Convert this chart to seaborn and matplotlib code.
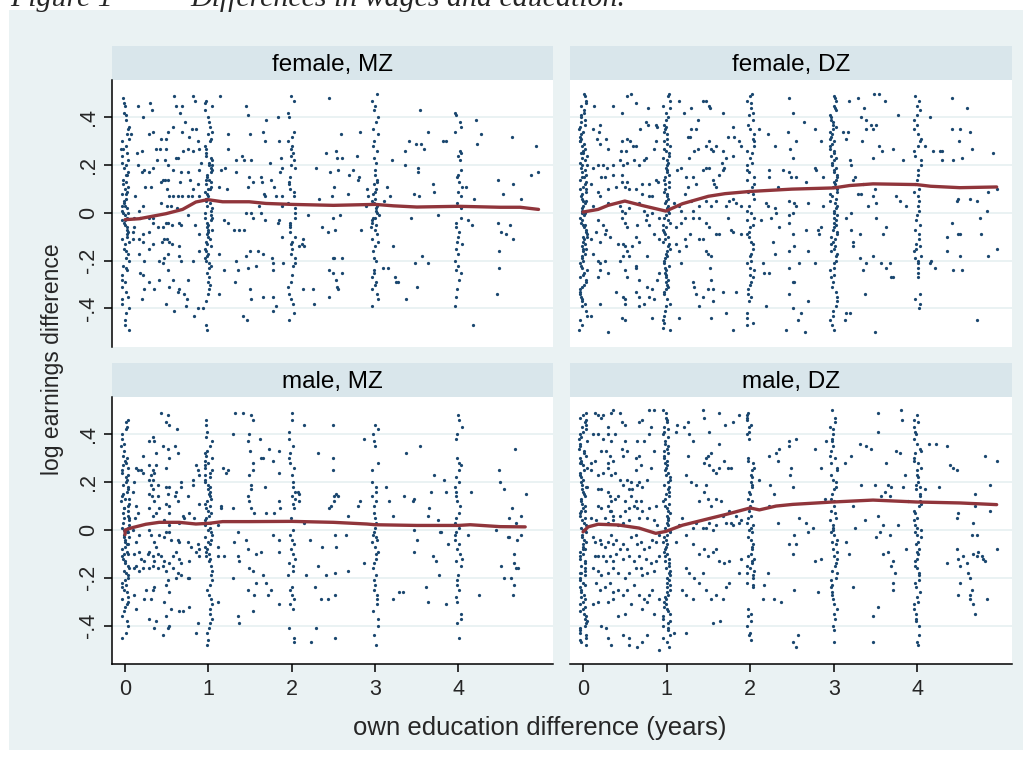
import pandas as pd
import seaborn as sns
import matplotlib.pyplot as plt
from matplotlib.patches import Rectangle

# ------------------------------------------------- #
# values
# x = own education difference (years), y = log earnings difference
# colN = the points that sit on the column at x = N (drawn with jitter)
# pts = the other points, fit = the lowess line
# ------------------------------------------------- #
x_ticks = [0, 1, 2, 3, 4]
y_ticks = [.4, .2, 0, -.2, -.4]
y_tick_labels = [".4", ".2", "0", "-.2", "-.4"]
panel_titles = ["female, MZ", "female, DZ", "male, MZ", "male, DZ"]

# ---- female, MZ
fmz_col0 = [.48, .46, .45, .42, .41, .39, .36, .35, .33, .31, .30, .28, .27, .27, .25, .24, .22, .21, .20, .19,
            .17, .16, .16, .14, .13, .12, .11, .10, .09, .08, .08, .06, .05, .04, .03, .03, .02, .01, .00, .00,
            -.01, -.02, -.03, -.03, -.04, -.05, -.06, -.07, -.08, -.09, -.10, -.11, -.12, -.13, -.15, -.16, -.17,
            -.19, -.20, -.22, -.23, -.24, -.26, -.28, -.29, -.31, -.33, -.35, -.36, -.38, -.40, -.42, -.45, -.47, -.49]
fmz_col1 = [.47, .46, .45, .43, .40, .38, .36, .34, .33, .31, .30, .28, .27, .25, .24, .23, .22, .21, .20, .20,
            .19, .18, .17, .16, .15, .14, .14, .13, .12, .11, .10, .10, .09, .08, .07, .06, .06, .05, .04, .03,
            .02, .01, .00, -.01, -.02, -.02, -.03, -.04, -.05, -.06, -.07, -.07, -.08, -.09, -.10, -.11, -.12,
            -.13, -.14, -.15, -.16, -.17, -.18, -.19, -.20, -.21, -.22, -.23, -.25, -.27, -.29, -.30, -.32, -.34,
            -.37, -.47, -.49]
fmz_col2 = [.49, .47, .42, .40, .34, .32, .30, .28, .27, .25, .24, .22, .20, .19, .15, .13, .12, .10, .09, .07,
            .04, .02, .00, -.02, -.04, -.05, -.06, -.08, -.10, -.12, -.13, -.15, -.17, -.19, -.21, -.22, -.26,
            -.29, -.31, -.34, -.36, -.38, -.42, -.45]
fmz_col3 = [.50, .47, .45, .43, .40, .38, .35, .33, .30, .28, .26, .23, .21, .18, .16, .14, .13, .12, .10, .09,
            .08, .06, .05, .04, .03, .02, .01, .00, -.01, -.02, -.02, -.03, -.04, -.05, -.06, -.07, -.09, -.11,
            -.12, -.14, -.16, -.19, -.20, -.24, -.25, -.27, -.29, -.30, -.32, -.34, -.36, -.39]
fmz_col4 = [.42, .41, .38, .36, .34, .26, .25, .24, .22, .18, .16, .15, .13, .11, .09, .07, .04, .02, -.02, -.04,
            -.06, -.08, -.10, -.12, -.13, -.15, -.17, -.20, -.22, -.24, -.25, -.28, -.32, -.35, -.39]
fmz_pts = [(.16, .45), (.30, .46), (.32, .43), (.22, .40), (.59, .49), (.61, .45), (.66, .42), (.68, .45),
           (.82, .49), (.84, .47), (.72, .38), (.57, .36), (.34, .34), (.29, .33), (.43, .31), (.49, .31),
           (.52, .34), (.80, .35), (.85, .35), (.68, .34), (.77, .32), (.87, .30), (.07, .33), (.14, .25),
           (.20, .26), (.37, .27), (.42, .27), (.49, .27), (.61, .23), (.64, .23), (.70, .26), (.76, .27),
           (.81, .26), (.89, .27), (.15, .20), (.20, .17), (.23, .18), (.29, .17), (.33, .19), (.38, .22),
           (.48, .22), (.51, .20), (.58, .18), (.67, .17), (.76, .17), (.78, .14), (.89, .18), (.91, .21),
           (.12, .07), (.24, .11), (.31, .11), (.43, .13), (.45, .14), (.48, .14), (.51, .14), (.50, .10),
           (.53, .07), (.57, .07), (.63, .07), (.68, .07), (.76, .07), (.80, .07), (.89, .07), (.87, .12),
           (.81, .10), (.66, .13), (.17, .01), (.21, .03), (.11, -.02), (.18, -.02), (.29, -.02), (.33, -.02),
           (.43, .04), (.50, .03), (.55, .03), (.62, .02), (.76, -.01), (.21, -.09), (.29, -.08), (.33, -.04),
           (.39, -.06), (.45, -.06), (.49, -.04), (.52, -.04), (.56, -.05), (.65, -.04), (.67, -.05),
           (.84, -.05), (.89, -.09), (.11, -.06), (.10, -.08), (.09, -.11), (.17, -.11), (.22, -.12),
           (.29, -.15), (.34, -.13), (.44, -.12), (.47, -.11), (.50, -.11), (.53, -.12), (.56, -.13),
           (.65, -.14), (.17, -.17), (.23, -.20), (.41, -.20), (.45, -.21), (.47, -.19), (.52, -.17),
           (.65, -.18), (.67, -.20), (.81, -.20), (.89, -.16), (.18, -.25), (.21, -.26), (.29, -.29),
           (.41, -.28), (.51, -.24), (.57, -.28), (.65, -.32), (.75, -.28), (.23, -.32), (.35, -.32),
           (.53, -.31), (.63, -.33), (.71, -.34), (.74, -.36), (.20, -.36), (.49, -.38), (.59, -.41),
           (.73, -.39), (.83, -.43), (.88, -.40), (.94, -.40),
           (1.14, .49), (1.24, .33), (1.23, .27), (1.15, .18), (1.20, .19), (1.13, .11), (1.22, .10),
           (1.33, .22), (1.33, .17), (1.40, .24), (1.43, .22), (1.45, .45), (1.48, .41), (1.50, .33),
           (1.51, .22), (1.65, .34), (1.68, .30), (1.69, .39), (1.84, .40), (1.85, .30), (1.74, .21),
           (1.87, .23), (1.88, .19), (1.86, .17), (1.49, .15), (1.53, .13), (1.48, .11), (1.63, .15),
           (1.64, .13), (1.67, .08), (1.68, .07), (1.75, .14), (1.79, .11), (1.81, .07), (1.88, .07),
           (1.88, .03), (1.19, -.03), (1.23, -.04), (1.31, -.07), (1.37, -.07), (1.43, -.07), (1.45, .00),
           (1.51, .00), (1.53, -.02), (1.61, .03), (1.63, .00), (1.68, -.03), (1.83, -.04), (1.85, -.03),
           (1.88, -.10), (1.13, -.17), (1.19, -.24), (1.33, -.20), (1.35, -.24), (1.45, -.18), (1.47, -.23),
           (1.50, -.16), (1.57, -.22), (1.60, -.16), (1.65, -.17), (1.76, -.19), (1.77, -.21), (1.77, -.24),
           (1.89, -.21), (1.13, -.34), (1.32, -.29), (1.50, -.32), (1.51, -.36), (1.65, -.35), (1.77, -.35),
           (1.81, -.39), (1.77, -.41), (1.42, -.43), (1.46, -.45),
           (2.09, -.14), (2.12, -.13), (2.15, -.14), (2.14, -.11), (2.20, -.01), (2.29, .19), (2.33, .06),
           (2.36, -.06), (2.41, .25), (2.43, -.08), (2.45, .48), (2.46, .17), (2.48, .07), (2.49, -.02),
           (2.51, .11), (2.52, -.07), (2.53, .26), (2.54, .23), (2.55, .18), (2.49, -.19), (2.51, -.19),
           (2.45, -.24), (2.49, -.25), (2.53, -.28), (2.54, -.31), (2.56, -.32), (2.45, -.35), (2.59, .33),
           (2.60, -.19), (2.60, -.25), (2.58, -.01), (2.60, .23), (2.68, .08), (2.69, .16), (2.74, .18),
           (2.78, .24), (2.79, .14), (2.81, .15), (2.82, .34), (2.83, -.07), (2.89, .03), (2.90, .10),
           (2.91, .07), (2.25, -.32), (2.27, -.38), (2.14, -.32),
           (3.09, -.23), (3.11, .05), (3.14, .11), (3.16, -.23), (3.18, .07), (3.20, .22), (3.22, -.14),
           (3.24, -.27), (3.25, -.29), (3.27, -.29), (3.36, .26), (3.36, .20), (3.37, -.36), (3.41, .30),
           (3.43, -.02), (3.47, .08), (3.48, -.21), (3.49, .29), (3.50, -.31), (3.51, .19), (3.51, .17),
           (3.53, .07), (3.54, .43), (3.55, .29), (3.56, -.18), (3.59, .27), (3.63, -.21), (3.64, .34),
           (3.69, .12), (3.71, .09), (3.75, -.01), (3.81, .30), (3.85, .30),
           (4.09, .11), (4.11, -.03), (4.16, -.05), (4.17, -.47), (4.19, .06), (4.21, .39), (4.22, .29),
           (4.27, .33), (4.47, .14), (4.47, -.04), (4.49, -.16), (4.49, -.23), (4.46, -.34), (4.51, -.08),
           (4.53, .08), (4.57, -.09), (4.62, -.05), (4.64, .32), (4.65, .12), (4.65, -.11), (4.75, .06),
           (4.87, .16), (4.93, .28), (4.95, .17)]
fmz_fit_x = [0, .17, .49, .69, .85, .99, 1.17, 1.49, 1.69, 2.0, 2.5, 3.0, 3.22, 3.5, 4.0, 4.5, 4.74, 4.96]
fmz_fit_y = [-.028, -.024, -.003, .015, .046, .056, .047, .047, .040, .036, .032, .036, .030, .025, .028, .024,
             .024, .015]

# ---- female, DZ
fdz_col0 = [.50, .49, .47, .46, .45, .43, .42, .41, .40, .39, .38, .37, .36, .35, .34, .33, .32, .31, .30, .30,
            .29, .28, .27, .26, .25, .25, .24, .23, .22, .21, .20, .20, .19, .18, .17, .16, .15, .15, .14, .13,
            .12, .11, .10, .10, .09, .08, .07, .06, .05, .05, .04, .03, .02, .01, .00, .00, -.01, -.02, -.03,
            -.04, -.05, -.05, -.06, -.07, -.08, -.09, -.10, -.10, -.11, -.12, -.13, -.14, -.15, -.15, -.16,
            -.17, -.18, -.19, -.20, -.21, -.22, -.23, -.24, -.25, -.26, -.27, -.28, -.29, -.30, -.31, -.32,
            -.33, -.34, -.35, -.36, -.37, -.38, -.39, -.41, -.43, -.45, -.47, -.49]
fdz_col1 = [.50, .49, .47, .45, .44, .42, .40, .39, .37, .36, .35, .34, .33, .31, .30, .29, .28, .27, .26, .25,
            .24, .23, .22, .21, .20, .19, .18, .17, .16, .15, .14, .13, .12, .11, .10, .09, .08, .07, .06, .05,
            .04, .03, .02, .01, .00, -.01, -.02, -.03, -.04, -.05, -.06, -.07, -.08, -.09, -.10, -.11, -.12,
            -.13, -.14, -.15, -.16, -.17, -.18, -.19, -.20, -.21, -.22, -.23, -.24, -.25, -.26, -.27, -.28,
            -.29, -.30, -.31, -.32, -.33, -.34, -.36, -.38, -.39, -.41, -.43, -.45, -.46, -.48, -.49]
fdz_col2 = [.50, .49, .47, .46, .44, .42, .41, .39, .37, .35, .33, .31, .30, .28, .26, .25, .23, .21, .20, .18,
            .17, .15, .14, .12, .11, .09, .08, .06, .03, .01, .00, -.02, -.03, -.05, -.06, -.08, -.09, -.10,
            -.12, -.13, -.15, -.17, -.18, -.20, -.21, -.23, -.24, -.26, -.27, -.29, -.30, -.32, -.34, -.35,
            -.37, -.42, -.44, -.46, -.47]
fdz_col3 = [.49, .48, .47, .45, .44, .43, .41, .40, .39, .38, .37, .36, .35, .34, .33, .32, .31, .30, .29, .28,
            .27, .26, .25, .24, .23, .22, .21, .20, .19, .18, .17, .16, .15, .14, .13, .12, .11, .10, .09, .08,
            .07, .06, .05, .04, .03, .02, .01, .00, -.01, -.02, -.03, -.04, -.05, -.06, -.07, -.08, -.09, -.10,
            -.11, -.12, -.13, -.14, -.15, -.16, -.17, -.18, -.20, -.21, -.23, -.24, -.26, -.27, -.29, -.31,
            -.33, -.35, -.37, -.39, -.41, -.43, -.45, -.47, -.49]
fdz_col4 = [.49, .47, .45, .43, .41, .39, .37, .35, .33, .31, .30, .28, .26, .24, .22, .20, .18, .16, .14, .12,
            .10, .09, .07, .05, .03, .01, -.01, -.03, -.05, -.07, -.09, -.11, -.13, -.14, -.15, -.16, -.18,
            -.19, -.20, -.21, -.23, -.25, -.27, -.34, -.36, -.38, -.40]
fdz_pts = [(.13, .45), (.30, -.50), (.36, .45), (.46, .42), (.53, .49), (.57, .50), (.63, .46), (.78, .44),
           (.75, .38), (.68, .35), (.12, .35), (.20, .37), (.19, .34), (.17, .31), (.28, .31), (.20, .29),
           (.30, .27), (.46, .30), (.53, .31), (.56, .30), (.45, .26), (.60, .28), (.63, .28), (.51, .26),
           (.73, .22), (.75, .23), (.78, .37), (.87, .37), (.89, .36), (.85, .27), (.87, .30), (.12, .19),
           (.18, .20), (.24, .20), (.29, .19), (.36, .20), (.44, .22), (.53, .21), (.48, .20), (.67, .20),
           (.61, .22), (.22, .15), (.26, .15), (.36, .16), (.46, .16), (.47, .13), (.52, .13), (.50, .11),
           (.10, .12), (.18, .09), (.20, .07), (.30, .10), (.40, .11), (.55, .10), (.63, .10), (.71, .12),
           (.79, .12), (.71, .08), (.79, .07), (.83, .07), (.87, .14), (.90, .13), (.12, .03), (.30, .04),
           (.44, .03), (.46, .01), (.50, .00), (.55, .02), (.67, .04), (.73, .01), (.83, .00), (.77, -.01),
           (.91, -.02), (.18, -.03), (.24, -.05), (.28, -.07), (.16, -.08), (.26, -.09), (.32, -.10),
           (.46, -.02), (.50, -.04), (.53, -.06), (.65, -.05), (.75, -.03), (.79, -.05), (.85, -.09),
           (.91, -.11), (.10, -.11), (.20, -.12), (.42, -.13), (.48, -.13), (.50, -.14), (.53, -.16),
           (.59, -.14), (.63, -.10), (.67, -.12), (.77, -.18), (.12, -.17), (.18, -.20), (.20, -.21),
           (.26, -.20), (.44, -.20), (.48, -.18), (.55, -.18), (.63, -.22), (.63, -.23), (.50, -.24),
           (.53, -.27), (.20, -.24), (.18, -.27), (.30, -.25), (.67, -.28), (.77, -.31), (.83, -.32),
           (.91, -.25), (.89, -.28), (.40, -.33), (.48, -.35), (.50, -.36), (.67, -.35), (.63, -.33),
           (.79, -.35), (.85, -.36), (.73, -.38), (.67, -.39), (.20, -.38), (.50, -.38), (.46, -.44),
           (.50, -.45), (.10, -.43), (.83, -.44),
           (1.15, .47), (1.21, .42), (1.29, .44), (1.43, .47), (1.47, .47), (1.51, .45), (1.52, .44),
           (1.68, .42), (1.79, .36), (1.81, .32), (1.73, .32), (1.67, .26), (1.71, .23), (1.79, .24),
           (1.87, .30), (1.89, .28), (1.25, .32), (1.28, .32), (1.29, .35), (1.35, .35), (1.37, .39),
           (1.33, .26), (1.27, .23), (1.38, .27), (1.47, .28), (1.51, .30), (1.53, .27), (1.55, .26),
           (1.59, .28), (1.66, .21), (1.13, .18), (1.17, .19), (1.23, .15), (1.25, .11), (1.31, .15),
           (1.35, .12), (1.43, .18), (1.47, .19), (1.51, .19), (1.55, .14), (1.57, .12), (1.59, .11),
           (1.63, .16), (1.67, .18), (1.69, .19), (1.22, .08), (1.29, .05), (1.09, .04), (1.15, .03),
           (1.17, .01), (1.31, .01), (1.39, .03), (1.47, .05), (1.53, .03), (1.59, .05), (1.71, .03),
           (1.75, .05), (1.79, .06), (1.83, .04), (1.89, .03), (1.11, -.06), (1.17, -.04), (1.22, -.02),
           (1.31, -.02), (1.39, -.02), (1.47, -.04), (1.51, -.06), (1.59, -.09), (1.63, -.09), (1.74, -.02),
           (1.77, -.07), (1.79, -.08), (1.89, -.09), (1.11, -.13), (1.15, -.16), (1.22, -.11), (1.23, -.14),
           (1.28, -.09), (1.39, -.11), (1.43, -.11), (1.47, -.16), (1.49, -.17), (1.53, -.18), (1.17, -.21),
           (1.31, -.29), (1.33, -.31), (1.35, -.34), (1.39, -.39), (1.43, -.35), (1.52, -.23), (1.53, -.28),
           (1.55, -.32), (1.49, -.32), (1.55, -.37), (1.67, -.33), (1.71, -.42), (1.79, -.49), (1.83, -.33),
           (1.15, -.44), (1.53, -.44),
           (2.11, .35), (2.21, .33), (2.30, .28), (2.39, .18), (2.45, .34), (2.47, .48), (2.48, .27),
           (2.51, .42), (2.51, .23), (2.55, .30), (2.64, .38), (2.77, .35), (2.85, .30), (2.22, .18),
           (2.23, .15), (2.33, .11), (2.46, .17), (2.49, .15), (2.55, .15), (2.67, .13), (2.78, .19),
           (2.79, .18), (2.87, .15), (2.19, .04), (2.21, .03), (2.31, .00), (2.47, .05), (2.51, .00),
           (2.53, .04), (2.55, .03), (2.69, .04), (2.87, .03), (2.13, -.03), (2.25, -.02), (2.30, .02),
           (2.35, -.06), (2.47, -.01), (2.47, -.04), (2.51, -.09), (2.67, -.07), (2.81, -.07), (2.82, -.09),
           (2.85, -.06), (2.27, -.12), (2.30, -.17), (2.47, -.16), (2.53, -.14), (2.69, -.16), (2.15, -.21),
           (2.17, -.25), (2.23, -.25), (2.47, -.23), (2.59, -.21), (2.77, -.21), (2.51, -.29), (2.47, -.34),
           (2.53, -.29), (2.19, -.39), (2.43, -.49), (2.51, -.40), (2.57, -.45), (2.61, -.42), (2.66, -.50),
           (2.69, -.37),
           (3.11, .34), (3.17, .34), (3.18, .47), (3.29, .48), (3.33, .40), (3.36, .44), (3.39, .39),
           (3.39, .35), (3.45, .37), (3.47, .35), (3.50, .37), (3.48, .50), (3.54, .50), (3.61, .47),
           (3.34, .30), (3.54, .28), (3.58, .26), (3.47, .23), (3.71, .27), (3.83, .22), (3.77, .41),
           (3.15, .31), (3.19, .22), (3.21, .20), (3.23, .14), (3.25, .15), (3.35, .12), (3.49, .10),
           (3.51, .04), (3.41, .03), (3.29, .08), (3.33, .08), (3.47, .07), (3.75, .07), (3.79, .05),
           (3.87, .03), (3.21, .00), (3.15, -.02), (3.21, -.07), (3.23, -.12), (3.23, -.14), (3.31, -.09),
           (3.51, -.02), (3.59, -.09), (3.63, -.06), (3.47, -.18), (3.31, -.19), (3.35, -.24), (3.39, -.21),
           (3.57, -.21), (3.63, -.23), (3.67, -.21), (3.69, -.27), (3.37, -.34), (3.49, -.50), (3.13, -.45),
           (3.15, -.42), (3.19, -.42), (3.71, -.27),
           (4.09, .28), (4.15, .40), (4.19, .26), (4.27, .26), (4.29, .26), (4.30, .22), (4.42, .48),
           (4.41, .35), (4.43, .22), (4.50, .30), (4.51, .35), (4.53, .23), (4.59, .44), (4.63, .34),
           (4.66, .27), (4.91, .25), (4.47, .05), (4.63, .06), (4.71, .05), (4.49, .06), (4.41, -.04),
           (4.49, -.09), (4.51, -.09), (4.35, -.10), (4.35, -.16), (4.51, -.18), (4.43, -.24), (4.53, -.24),
           (4.17, -.20), (4.21, -.23), (4.15, -.21), (4.75, -.02), (4.76, -.09), (4.83, .01), (4.85, -.18),
           (4.95, -.15), (4.85, .09), (4.95, .10), (4.71, -.45)]
fdz_fit_x = [0, .18, .30, .50, .70, .99, 1.19, 1.50, 1.70, 1.99, 2.50, 3.0, 3.19, 3.47, 3.99, 4.16, 4.51, 4.95]
fdz_fit_y = [.004, .015, .032, .050, .032, .008, .039, .070, .081, .090, .100, .105, .115, .122, .119, .112,
             .106, .109]

# ---- male, MZ
mmz_col0 = [.46, .45, .43, .42, .40, .38, .36, .35, .33, .31, .30, .29, .28, .27, .26, .25, .24, .23, .22, .21,
            .20, .19, .18, .17, .16, .15, .14, .13, .13, .12, .11, .10, .09, .09, .08, .07, .06, .05, .05, .04,
            .03, .02, .01, .01, .00, .00, -.01, -.01, -.02, -.03, -.03, -.04, -.05, -.06, -.06, -.07, -.08,
            -.09, -.10, -.10, -.11, -.12, -.13, -.14, -.15, -.16, -.17, -.18, -.19, -.20, -.21, -.22, -.23,
            -.24, -.25, -.26, -.28, -.29, -.30, -.31, -.32, -.34, -.36, -.38, -.40, -.43, -.45]
mmz_col1 = [.46, .44, .41, .39, .37, .35, .33, .32, .31, .30, .29, .28, .27, .26, .25, .24, .23, .22, .21, .20,
            .19, .18, .17, .16, .15, .14, .13, .12, .11, .10, .09, .08, .07, .06, .05, .04, .03, .02, .01, .00,
            -.01, -.02, -.03, -.04, -.05, -.06, -.07, -.08, -.09, -.10, -.11, -.12, -.13, -.15, -.17, -.19,
            -.21, -.23, -.25, -.27, -.29, -.31, -.33, -.35, -.37, -.39, -.41, -.43, -.46, -.48]
mmz_col2 = [.49, .46, .41, .38, .35, .32, .30, .28, .26, .23, .20, .18, .16, .14, .13, .11, .09, .05, .00, -.02,
            -.04, -.06, -.08, -.10, -.12, -.14, -.15, -.17, -.19, -.24, -.25, -.27, -.29, -.31, -.33, -.41,
            -.45, -.47]
mmz_col3 = [.44, .42, .40, .37, .35, .28, .25, .20, .18, .16, .14, .12, .10, .07, .05, .03, .01, -.01, -.02,
            -.03, -.04, -.05, -.07, -.09, -.10, -.12, -.14, -.16, -.19, -.21, -.23, -.25, -.27, -.29, -.31,
            -.34, -.37, -.40, -.44, -.48]
mmz_col4 = [.48, .46, .43, .40, .38, .30, .28, .27, .25, .22, .20, .18, .16, .14, .12, .10, .07, .05, .03, .01,
            -.01, -.02, -.04, -.06, -.08, -.10, -.12, -.13, -.15, -.19, -.21, -.23, -.25, -.28, -.30, -.35,
            -.37, -.39, -.45]
mmz_pts = [(.43, .49), (.51, .48), (.49, .45), (.53, .44), (.62, .42), (.33, .39), (.35, .37), (.29, .37),
           (.45, .35), (.60, .35), (.64, .32), (.51, .34), (.53, .30), (.49, .26), (.37, .32), (.21, .31),
           (.13, .26), (.16, .25), (.19, .25), (.21, .24), (.29, .27), (.33, .25), (.35, .24), (.37, .27),
           (.31, .23), (.29, .21), (.33, .21), (.31, .19), (.39, .19), (.34, .17), (.29, .15), (.32, .14),
           (.35, .12), (.39, .14), (.49, .18), (.53, .18), (.51, .15), (.49, .11), (.53, .10), (.53, .07),
           (.67, .20), (.67, .18), (.61, .16), (.60, .14), (.63, .12), (.76, .14), (.81, .19), (.81, .21),
           (.85, .27), (.87, .25), (.89, .23), (.89, .11), (.77, .07), (.69, .06), (.11, .20), (.10, .16),
           (.13, .10), (.15, .07), (.12, .05), (.29, .09), (.33, .06), (.37, .07), (.41, .09), (.47, .04),
           (.53, .02), (.65, .03), (.71, .05), (.83, .05), (.09, .00), (.17, -.02), (.29, .00), (.31, -.02),
           (.35, -.05), (.37, -.07), (.41, -.02), (.47, -.03), (.49, -.01), (.53, -.01), (.55, -.04),
           (.63, -.04), (.65, -.05), (.75, -.05), (.79, -.07), (.89, -.08), (.87, -.06), (.13, -.05),
           (.11, -.10), (.17, -.09), (.19, -.12), (.23, -.13), (.27, -.10), (.29, -.09), (.33, -.11),
           (.35, -.13), (.39, -.10), (.43, -.11), (.47, -.13), (.53, -.14), (.57, -.11), (.61, -.09),
           (.65, -.12), (.67, -.14), (.77, -.13), (.85, -.09), (.89, -.11), (.11, -.16), (.13, -.15),
           (.17, -.17), (.21, -.16), (.29, -.16), (.33, -.15), (.39, -.16), (.45, -.15), (.49, -.17),
           (.57, -.16), (.63, -.18), (.67, -.19), (.61, -.20), (.75, -.20), (.77, -.20), (.51, -.21),
           (.49, -.23), (.35, -.24), (.33, -.25), (.25, -.25), (.31, -.29), (.23, -.29), (.11, -.27),
           (.13, -.33), (.29, -.37), (.35, -.41), (.37, -.38), (.45, -.44), (.51, -.41), (.53, -.40),
           (.49, -.36), (.55, -.33), (.65, -.34), (.69, -.34), (.77, -.32), (.85, -.43), (.88, -.39),
           (.47, -.30), (.53, -.26),
           (1.11, .02), (1.15, .09), (1.15, .10), (1.21, .24), (1.23, .25), (1.17, .26), (1.29, .40),
           (1.32, .49), (1.42, .49), (1.51, .48), (1.53, .46), (1.47, .37), (1.49, .40), (1.50, .33),
           (1.53, .28), (1.54, .25), (1.49, .23), (1.51, .19), (1.51, .17), (1.47, .14), (1.49, .12),
           (1.51, .09), (1.55, .07), (1.62, .38), (1.63, .30), (1.65, .30), (1.68, .18), (1.69, .07),
           (1.73, .34), (1.77, .29), (1.85, .33), (1.85, .24), (1.85, .12), (1.86, .09), (1.79, .07),
           (1.11, -.07), (1.12, -.11), (1.19, -.11), (1.29, .09), (1.29, -.20), (1.31, -.05), (1.35, -.01),
           (1.36, -.11), (1.37, -.13), (1.45, -.04), (1.47, -.08), (1.49, -.16), (1.53, -.17), (1.57, -.10),
           (1.63, -.09), (1.65, -.19), (1.69, -.22), (1.71, -.27), (1.75, -.25), (1.57, -.22), (1.55, -.27),
           (1.53, -.34), (1.47, -.25), (1.85, -.04), (1.85, -.09), (1.85, -.31), (1.35, -.36), (1.37, -.39),
           (1.11, -.30), (1.77, -.02),
           (2.15, .44), (2.07, .16), (2.09, .15), (2.09, .12), (2.15, .03), (2.17, -.19), (2.22, -.04),
           (2.28, -.24), (2.31, -.15), (2.32, .32), (2.35, -.29), (2.36, -.07), (2.41, -.19), (2.43, -.29),
           (2.45, .09), (2.47, .10), (2.49, .30), (2.49, .25), (2.49, .44), (2.51, .12), (2.51, .14),
           (2.53, .15), (2.55, .14), (2.52, -.02), (2.53, -.07), (2.52, -.18), (2.52, -.27), (2.52, -.45),
           (2.65, -.02), (2.67, .06), (2.67, -.17), (2.79, .10), (2.82, .12), (2.87, .38), (2.87, -.14),
           (2.23, -.47), (2.29, -.41),
           (3.13, .18), (3.17, .12), (3.21, .06), (3.21, -.29), (3.29, -.26), (3.33, -.26), (3.35, .14),
           (3.37, .32), (3.45, .12), (3.47, .13), (3.47, .00), (3.47, -.09), (3.50, -.04), (3.54, .35),
           (3.61, -.24), (3.63, -.30), (3.65, .09), (3.67, .16), (3.64, .06), (3.69, -.11), (3.71, .23),
           (3.73, -.13), (3.77, -.19), (3.78, -.01), (3.83, .21), (3.85, -.31), (3.87, -.06), (3.85, .16),
           (3.76, .04), (3.79, -.01),
           (4.11, -.02), (4.15, .16), (4.25, -.27), (4.45, .00), (4.49, .25), (4.50, .20), (4.51, -.15),
           (4.54, .17), (4.55, -.20), (4.59, -.03), (4.61, -.03), (4.61, .05), (4.63, -.20), (4.64, .09),
           (4.65, -.27), (4.66, -.23), (4.67, -.14), (4.69, .03), (4.70, -.04), (4.68, .34), (4.69, -.16),
           (4.75, .06), (4.75, -.02), (4.81, .15), (4.67, -.10), (4.71, -.16)]
mmz_fit_x = [0, 0, .09, .25, .41, .65, .85, 1.01, 1.17, 1.49, 2.0, 2.5, 2.9, 3.0, 3.5, 4.0, 4.14, 4.5, 4.8]
mmz_fit_y = [-.019, .000, .010, .024, .032, .032, .025, .028, .035, .035, .036, .032, .025, .022, .019, .019,
             .022, .014, .013]

# ---- male, DZ
mdz_col0 = [.49, .48, .47, .46, .45, .44, .43, .42, .41, .40, .39, .38, .37, .36, .35, .34, .33, .32, .31, .30,
            .29, .28, .28, .27, .26, .25, .24, .23, .22, .21, .20, .19, .18, .18, .17, .16, .15, .14, .13, .12,
            .11, .10, .09, .08, .08, .07, .06, .05, .04, .03, .02, .01, .00, .00, -.01, -.02, -.03, -.04, -.05,
            -.06, -.07, -.08, -.08, -.09, -.10, -.11, -.12, -.13, -.14, -.15, -.16, -.17, -.18, -.18, -.19,
            -.20, -.21, -.22, -.23, -.24, -.25, -.26, -.27, -.28, -.29, -.30, -.31, -.32, -.33, -.34, -.35,
            -.36, -.37, -.38, -.39, -.40, -.41, -.42, -.43, -.44, -.45, -.46, -.47, -.48]
mdz_col1 = [.50, .49, .47, .46, .45, .43, .42, .41, .40, .39, .37, .36, .35, .34, .33, .32, .31, .30, .29, .28,
            .27, .26, .25, .24, .23, .22, .21, .20, .19, .18, .17, .16, .15, .14, .13, .12, .11, .10, .09, .08,
            .07, .06, .05, .04, .03, .02, .01, .00, -.01, -.02, -.03, -.04, -.05, -.06, -.07, -.08, -.09, -.10,
            -.11, -.12, -.13, -.14, -.15, -.16, -.17, -.18, -.19, -.20, -.21, -.22, -.23, -.24, -.25, -.26,
            -.27, -.28, -.29, -.30, -.31, -.32, -.33, -.34, -.35, -.36, -.37, -.38, -.39, -.40, -.41, -.42,
            -.44, -.45, -.47, -.49]
mdz_col2 = [.49, .48, .47, .46, .44, .43, .41, .40, .38, .30, .29, .28, .26, .25, .23, .22, .20, .19, .18, .16,
            .15, .13, .12, .10, .09, .08, .06, .05, .03, .02, .01, .00, -.01, -.03, -.04, -.06, -.07, -.08,
            -.10, -.11, -.12, -.13, -.14, -.15, -.16, -.17, -.18, -.19, -.20, -.22, -.23, -.24, -.33, -.35,
            -.36, -.38, -.40, -.43, -.44, -.46]
mdz_col3 = [.50, .47, .45, .43, .42, .40, .38, .37, .35, .33, .31, .30, .28, .26, .25, .23, .21, .20, .18, .17,
            .15, .13, .12, .10, .08, .07, .05, .04, .02, .01, .00, -.01, -.02, -.04, -.05, -.06, -.08, -.09,
            -.11, -.12, -.14, -.15, -.17, -.18, -.20, -.21, -.23, -.24, -.26, -.27, -.29, -.31, -.33, -.35,
            -.37, -.40, -.42, -.47]
mdz_col4 = [.48, .46, .45, .43, .41, .40, .38, .36, .34, .33, .32, .30, .29, .28, .26, .25, .23, .22, .20, .19,
            .18, .17, .15, .14, .12, .11, .10, .08, .07, .05, .04, .02, .01, .00, -.01, -.02, -.03, -.05, -.06,
            -.08, -.09, -.10, -.12, -.13, -.15, -.16, -.18, -.19, -.21, -.22, -.24, -.26, -.28, -.30, -.31,
            -.33, -.35, -.37, -.38, -.40, -.44, -.47, -.48]
mdz_pts = [(.14, .49), (.18, .48), (.22, .47), (.24, .48), (.30, .43), (.34, .49), (.36, .50), (.44, .49),
           (.46, .45), (.50, .44), (.18, .40), (.12, .40), (.24, .38), (.30, .40), (.34, .37), (.38, .40),
           (.50, .37), (.46, .34), (.53, .33), (.48, .31), (.22, .33), (.28, .33), (.32, .31), (.36, .29),
           (.30, .28), (.14, .29), (.10, .28), (.67, .45), (.71, .46), (.79, .50), (.85, .50), (.79, .40),
           (.73, .37), (.65, .37), (.63, .30), (.67, .31), (.69, .27), (.63, .25), (.57, .20), (.81, .43),
           (.85, .33), (.81, .26), (.10, .25), (.18, .23), (.24, .24), (.30, .26), (.34, .23), (.38, .24),
           (.44, .21), (.48, .19), (.53, .21), (.55, .17), (.59, .17), (.65, .19), (.67, .20), (.71, .18),
           (.77, .21), (.18, .17), (.22, .17), (.30, .16), (.32, .14), (.34, .12), (.38, .13), (.42, .14),
           (.50, .12), (.57, .14), (.63, .12), (.69, .12), (.18, .10), (.22, .09), (.30, .10), (.32, .08),
           (.34, .08), (.36, .06), (.44, .06), (.50, .08), (.55, .09), (.61, .10), (.65, .09), (.71, .08),
           (.79, .09), (.87, .10), (.10, .05), (.16, .04), (.26, .05), (.30, .03), (.36, .04), (.42, .02),
           (.48, .03), (.55, .04), (.67, .05), (.77, .05), (.85, .04), (.89, .02), (.12, -.03), (.14, -.05),
           (.20, -.04), (.22, -.06), (.26, -.07), (.30, -.05), (.34, -.02), (.36, -.06), (.40, -.04),
           (.44, -.08), (.48, -.06), (.53, -.08), (.57, -.03), (.63, -.02), (.65, -.06), (.69, -.05),
           (.73, -.08), (.79, -.07), (.83, -.04), (.87, -.05), (.91, -.02), (.14, -.11), (.18, -.11),
           (.24, -.11), (.28, -.13), (.32, -.11), (.36, -.13), (.40, -.10), (.48, -.12), (.55, -.11),
           (.61, -.13), (.67, -.11), (.69, -.16), (.75, -.12), (.81, -.14), (.87, -.13), (.91, -.11),
           (.12, -.16), (.18, -.17), (.22, -.19), (.30, -.18), (.36, -.16), (.42, -.18), (.50, -.20),
           (.55, -.18), (.63, -.16), (.71, -.19), (.77, -.18), (.85, -.17), (.16, -.22), (.20, -.25),
           (.26, -.24), (.32, -.22), (.36, -.26), (.42, -.25), (.48, -.27), (.53, -.25), (.61, -.23),
           (.67, -.27), (.73, -.29), (.79, -.27), (.83, -.25), (.91, -.29), (.12, -.31), (.18, -.30),
           (.30, -.30), (.36, -.29), (.42, -.36), (.50, -.35), (.57, -.31), (.71, -.33), (.77, -.30),
           (.85, -.35), (.22, -.40), (.28, -.41), (.30, -.45), (.34, -.48), (.48, -.44), (.55, -.45),
           (.65, -.49), (.71, -.47), (.77, -.44), (.91, -.50), (.55, -.48),
           (1.11, .41), (1.13, .44), (1.21, .43), (1.25, .45), (1.27, .40), (1.31, .37), (1.43, .50),
           (1.45, .47), (1.51, .41), (1.63, .49), (1.70, .44), (1.79, .45), (1.87, .48), (1.25, .31),
           (1.23, .23), (1.29, .20), (1.35, .19), (1.45, .28), (1.47, .30), (1.49, .31), (1.53, .32),
           (1.51, .27), (1.55, .25), (1.59, .24), (1.63, .26), (1.69, .29), (1.73, .26), (1.77, .26),
           (1.63, .36), (1.47, .19), (1.45, .16), (1.39, .12), (1.49, .13), (1.53, .10), (1.59, .13),
           (1.65, .12), (1.67, .06), (1.75, .08), (1.77, .03), (1.83, .06), (1.89, .04), (1.15, .02),
           (1.19, .05), (1.31, .01), (1.35, .03), (1.43, .01), (1.47, .01), (1.51, .03), (1.55, .00),
           (1.59, .02), (1.71, .03), (1.79, .02), (1.87, .03), (1.11, -.05), (1.23, -.02), (1.31, -.06),
           (1.39, -.10), (1.45, -.08), (1.49, -.11), (1.55, -.09), (1.59, -.08), (1.63, -.13), (1.69, -.14),
           (1.75, -.13), (1.23, -.16), (1.27, -.18), (1.33, -.20), (1.39, -.22), (1.43, -.18), (1.47, -.25),
           (1.53, -.29), (1.59, -.27), (1.67, -.29), (1.71, -.24), (1.75, -.22), (1.19, -.25), (1.23, -.27),
           (1.31, -.29), (1.55, -.39), (1.64, -.38), (1.89, -.12), (1.87, -.18), (1.09, -.43), (1.23, -.43),
           (2.11, .21), (2.15, -.29), (2.21, -.18), (2.23, .31), (2.24, .19), (2.29, .15), (2.31, .32),
           (2.33, .29), (2.33, .03), (2.35, .34), (2.37, -.30), (2.47, .37), (2.47, .35), (2.48, .23),
           (2.49, .26), (2.51, .18), (2.53, -.02), (2.53, -.25), (2.55, .38), (2.51, -.10), (2.55, -.06),
           (2.59, .05), (2.67, .03), (2.69, -.01), (2.75, .01), (2.77, -.13), (2.77, .34), (2.81, -.26),
           (2.85, -.12), (2.85, .26), (2.89, .13), (2.91, .37), (2.51, -.47), (2.57, -.44), (2.55, -.49),
           (2.29, -.29), (2.22, .10), (2.16, -.23), (2.47, -.06),
           (3.13, .28), (3.15, -.05), (3.18, -.10), (3.21, .31), (3.23, .10), (3.23, -.24), (3.25, .01),
           (3.31, .36), (3.33, .19), (3.37, .04), (3.39, .35), (3.45, .34), (3.47, -.36), (3.47, -.47),
           (3.49, .19), (3.50, -.03), (3.53, .49), (3.53, .41), (3.53, .06), (3.55, -.01), (3.57, .14),
           (3.59, -.10), (3.59, .02), (3.61, .16), (3.63, .28), (3.65, .19), (3.67, .14), (3.69, .18),
           (3.65, -.09), (3.67, -.02), (3.69, -.15), (3.71, -.13), (3.71, -.22), (3.71, -.25), (3.73, -.18),
           (3.75, .33), (3.79, .32), (3.81, .50), (3.82, .46), (3.83, .18), (3.87, -.08), (3.85, .23),
           (3.89, .12), (3.53, -.32), (3.77, .02),
           (4.09, .17), (4.14, .36), (4.22, .36), (4.26, .18), (4.35, .35), (4.35, -.14), (4.39, .27),
           (4.43, .26), (4.47, .25), (4.47, .05), (4.49, .07), (4.47, -.08), (4.49, -.12), (4.51, -.15),
           (4.49, -.27), (4.51, -.22), (4.55, -.11), (4.59, -.14), (4.61, -.18), (4.63, -.20), (4.63, -.27),
           (4.63, -.29), (4.65, -.02), (4.67, .03), (4.69, .15), (4.69, .10), (4.67, -.10), (4.71, -.11),
           (4.73, -.09), (4.77, -.11), (4.79, -.12), (4.81, -.13), (4.83, -.29), (4.87, .08), (4.87, .19),
           (4.95, -.08), (4.95, .29), (4.81, .31), (4.65, -.25), (4.67, -.31), (4.69, -.35), (4.71, -.02)]
mdz_fit_x = [0, .06, .18, .42, .67, .87, .99, 1.19, 1.50, 1.71, 2.0, 2.11, 2.31, 2.51, 2.99, 3.47, 3.99, 4.51,
             4.95]
mdz_fit_y = [-.008, .013, .024, .021, .008, -.014, -.006, .020, .047, .065, .092, .084, .100, .107, .117, .125,
             .117, .113, .106]

# ------------------------------------------------- #
# style
OUTER = "#EAF2F3"
STRIP = "#D9E6EB"
GRID = "#EAF2F3"
DOT = "#1A476F"
FIT = "#90353B"
W, H = 1032, 759

sns.set_theme(style="white")
plt.rcParams["font.family"] = ["Liberation Sans", "DejaVu Sans"]


def box(x0, y0, x1, y1):
    # pixel box (from top left) -> figure fraction rect
    return [x0 / W, 1 - y1 / H, (x1 - x0) / W, (y1 - y0) / H]


fig = plt.figure(figsize=(W / 100, H / 100), dpi=100, facecolor="white")
fig.patches.append(Rectangle((9 / W, 1 - 750 / H), 1014 / W, 740 / H, transform=fig.transFigure,
                             facecolor=OUTER, edgecolor="none", zorder=-1))

# the caption sits right on the top edge, as in the scanned page
fig.text(10 / W, 1 - 6.5 / H, "Figure 1", family="Liberation Serif", style="italic", fontsize=21.5,
         va="baseline", ha="left")
fig.text(190 / W, 1 - 6.5 / H, "Differences in wages and education.", family="Liberation Serif",
         style="italic", fontsize=21.5, va="baseline", ha="left")

panels = [
    ([fmz_col0, fmz_col1, fmz_col2, fmz_col3, fmz_col4], fmz_pts, fmz_fit_x, fmz_fit_y),
    ([fdz_col0, fdz_col1, fdz_col2, fdz_col3, fdz_col4], fdz_pts, fdz_fit_x, fdz_fit_y),
    ([mmz_col0, mmz_col1, mmz_col2, mmz_col3, mmz_col4], mmz_pts, mmz_fit_x, mmz_fit_y),
    ([mdz_col0, mdz_col1, mdz_col2, mdz_col3, mdz_col4], mdz_pts, mdz_fit_x, mdz_fit_y),
]
col_px = [(111.7, 552.7), (569.7, 1011.7)]
row_px = [(46, 80, 346.7), (363.3, 396.7, 664)]

for i, (cols, pts, fit_x, fit_y) in enumerate(panels):
    r, c = divmod(i, 2)
    x0, x1 = col_px[c]
    s0, y0, y1 = row_px[r]

    # strip header
    sax = fig.add_axes(box(x0, s0, x1, y0))
    sax.set_facecolor(STRIP)
    sax.set_xticks([])
    sax.set_yticks([])
    for sp in sax.spines.values():
        sp.set_visible(False)
    sax.text(.5, .27, panel_titles[i], ha="center", va="baseline", fontsize=17.5, color="black",
             transform=sax.transAxes)

    ax = fig.add_axes(box(x0, y0, x1, y1))
    ax.set_facecolor("white")
    for yv in y_ticks:
        ax.axhline(yv, color=GRID, lw=1.4, zorder=0)

    strip_df = pd.concat([pd.DataFrame({"x": float(x_ticks[k]), "y": v}) for k, v in enumerate(cols)])
    sns.stripplot(data=strip_df, x="x", y="y", native_scale=True, orient="x", jitter=.045,
                  size=2.3, color=DOT, linewidth=0, ax=ax, zorder=3)
    pts_df = pd.DataFrame(pts, columns=["x", "y"])
    sns.scatterplot(data=pts_df, x="x", y="y", s=5.5, color=DOT, linewidth=0, ax=ax, zorder=3)
    sns.lineplot(x=fit_x, y=fit_y, estimator=None, sort=False, color=FIT, lw=2.4, ax=ax, zorder=4)

    ax.set_xlim(-.16, 5.13)
    ax.set_ylim(-.56, .557)
    ax.set_xlabel("")
    ax.set_ylabel("")
    ax.grid(False)
    for sp in ax.spines.values():
        sp.set_visible(False)

    ax.set_yticks(y_ticks)
    ax.set_yticklabels(y_tick_labels, rotation=90, va="center")
    ax.set_xticks(x_ticks)
    ax.set_xticklabels([str(t) for t in x_ticks])
    ax.tick_params(axis="y", left=(c == 0), labelleft=(c == 0), length=5.8, width=1.1, color="black",
                   pad=3.5, labelsize=15.5)
    ax.tick_params(axis="x", bottom=(r == 1), labelbottom=(r == 1), length=5.8, width=1.1, color="black",
                   pad=5, labelsize=15.5)
    if c == 0:
        ax.spines["left"].set_visible(True)
        ax.spines["left"].set_color("black")
        ax.spines["left"].set_linewidth(1.1)
    if r == 1:
        ax.spines["bottom"].set_visible(True)
        ax.spines["bottom"].set_color("black")
        ax.spines["bottom"].set_linewidth(1.1)

fig.text(59 / W, 1 - 359 / H, "log earnings difference", rotation=90, rotation_mode="anchor",
         ha="center", va="baseline", fontsize=16.5)
fig.text(540 / W, 1 - 735 / H, "own education difference (years)", ha="center", va="baseline",
         fontsize=18.5)

fig.savefig("out.png", dpi=100)
